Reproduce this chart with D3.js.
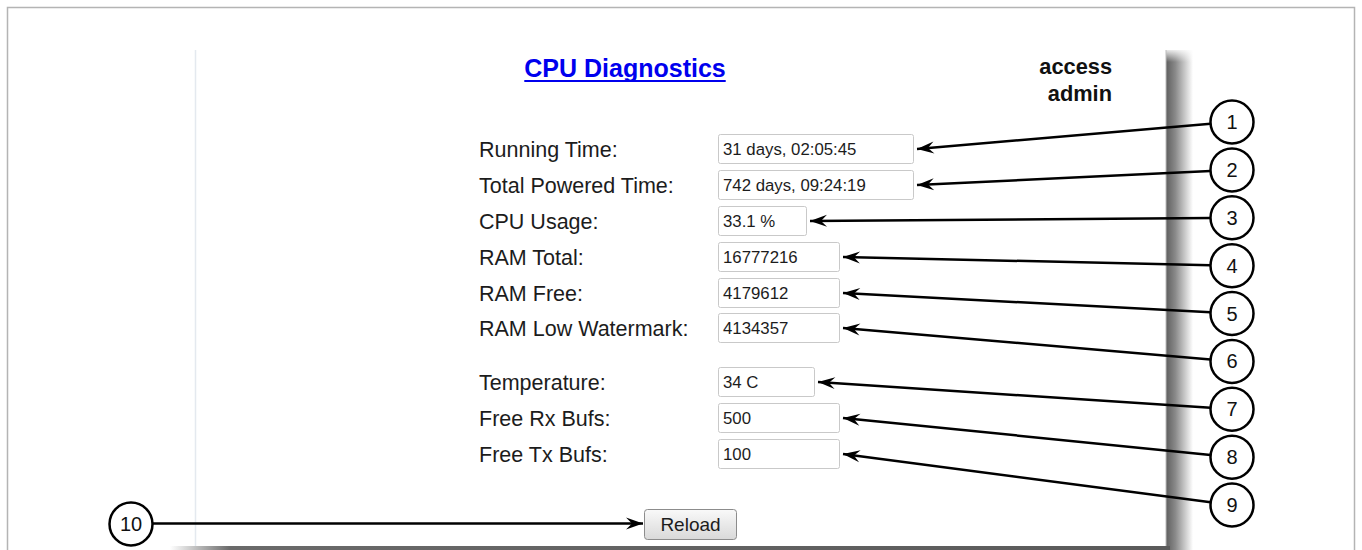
<!DOCTYPE html>
<html>
<head>
<meta charset="utf-8">
<script src="https://cdn.jsdelivr.net/npm/d3@7"></script>
<style>
  html, body { margin: 0; padding: 0; background: #ffffff; }
  svg { display: block; font-family: "Liberation Sans", Arial, sans-serif; }
</style>
</head>
<body>
<svg id="chart" width="1362" height="550"></svg>
<script>
// ---- data ----
const title = "CPU Diagnostics";
const userLines = ["access", "admin"];
const fieldLabels = ["Running Time:", "Total Powered Time:", "CPU Usage:", "RAM Total:", "RAM Free:",
  "RAM Low Watermark:", "Temperature:", "Free Rx Bufs:", "Free Tx Bufs:"];
const fieldValues = ["31 days, 02:05:45", "742 days, 09:24:19", "33.1 %", "16777216", "4179612",
  "4134357", "34 C", "500", "100"];
const calloutNumbers = ["1", "2", "3", "4", "5", "6", "7", "8", "9"];
const buttonLabel = "Reload";
const buttonCallout = "10";

// ---- layout (not data) ----
const boxWidths = [195, 195, 88, 121, 121, 121, 96, 121, 121];

const svg = d3.select("#chart");
const defs = svg.append("defs");

const shadowR = defs.append("linearGradient").attr("id", "shR").attr("x1", 0).attr("x2", 1).attr("y1", 0).attr("y2", 0);
shadowR.append("stop").attr("offset", "0%").attr("stop-color", "#5e5e5e");
shadowR.append("stop").attr("offset", "35%").attr("stop-color", "#8a8a8a");
shadowR.append("stop").attr("offset", "100%").attr("stop-color", "#ffffff");
const shadowRTop = defs.append("linearGradient").attr("id", "shRT").attr("x1", 0).attr("x2", 0).attr("y1", 0).attr("y2", 1);
shadowRTop.append("stop").attr("offset", "0%").attr("stop-color", "#fff").attr("stop-opacity", 1);
shadowRTop.append("stop").attr("offset", "100%").attr("stop-color", "#fff").attr("stop-opacity", 0);
const shadowB = defs.append("linearGradient").attr("id", "shB").attr("x1", 0).attr("x2", 1).attr("y1", 0).attr("y2", 0);
shadowB.append("stop").attr("offset", "0%").attr("stop-color", "#ffffff");
shadowB.append("stop").attr("offset", "6%").attr("stop-color", "#6a6a6a");
shadowB.append("stop").attr("offset", "100%").attr("stop-color", "#5a5a5a");
const btnGrad = defs.append("linearGradient").attr("id", "btn").attr("x1", 0).attr("x2", 0).attr("y1", 0).attr("y2", 1);
btnGrad.append("stop").attr("offset", "0%").attr("stop-color", "#f9f9f9");
btnGrad.append("stop").attr("offset", "100%").attr("stop-color", "#d9d9d9");

defs.append("marker").attr("id", "arr").attr("viewBox", "-18 -7 20 14")
  .attr("refX", 0).attr("refY", 0).attr("markerUnits", "userSpaceOnUse")
  .attr("markerWidth", 20).attr("markerHeight", 14).attr("orient", "auto")
  .append("path").attr("d", "M0,0 L-17,-6 L-11,0 L-17,6 Z").attr("fill", "#000");

// outer frame
svg.append("rect").attr("x", 7.5).attr("y", 7.5).attr("width", 1347).attr("height", 570)
  .attr("fill", "none").attr("stroke", "#b4b4b4").attr("stroke-width", 1.5);

// panel
svg.append("line").attr("x1", 195.5).attr("x2", 195.5).attr("y1", 50).attr("y2", 547)
  .attr("stroke", "#e4e9ef").attr("stroke-width", 1.5);
svg.append("rect").attr("x", 1166).attr("y", 50).attr("width", 27).attr("height", 500).attr("fill", "url(#shR)");
svg.append("rect").attr("x", 1166).attr("y", 48).attr("width", 27).attr("height", 14).attr("fill", "url(#shRT)");
svg.append("line").attr("x1", 1166).attr("x2", 1166).attr("y1", 50).attr("y2", 547)
  .attr("stroke", "#bdbdbd").attr("stroke-width", 1);
svg.append("rect").attr("x", 170).attr("y", 546).attr("width", 1000).attr("height", 4).attr("fill", "url(#shB)");

// title
const titleText = svg.append("text").attr("x", 625).attr("y", 77).attr("text-anchor", "middle")
  .attr("font-size", 25).attr("font-weight", "bold").attr("fill", "#0000ee").text(title);
const tw = titleText.node().getComputedTextLength();
svg.append("line").attr("x1", 625 - tw / 2).attr("x2", 625 + tw / 2).attr("y1", 81).attr("y2", 81)
  .attr("stroke", "#0000ee").attr("stroke-width", 2);

// access/admin
svg.selectAll("text.user").data(userLines).join("text").attr("class", "user")
  .attr("x", 1112).attr("y", (d, i) => 74 + i * 27).attr("text-anchor", "end")
  .attr("font-size", 21.8).attr("font-weight", "bold").attr("fill", "#111").text(d => d);

// rows
const idx = d3.range(fieldLabels.length);
const rowY = d3.scaleLinear().domain([0, 1]).range([134, 170]);
const rowTop = i => rowY(i) + (i >= 6 ? 17 : 0) - (i === 5 ? 1 : 0);
const boxH = 29;
const boxW = i => boxWidths[i];
const boxX = 718;

svg.selectAll("text.label").data(idx).join("text").attr("class", "label")
  .attr("x", 479).attr("y", i => rowTop(i) + 23)
  .attr("font-size", 21.5).attr("fill", "#1c1c1c").text(i => fieldLabels[i]);

svg.selectAll("rect.box").data(idx).join("rect").attr("class", "box")
  .attr("x", boxX + 0.5).attr("y", i => rowTop(i) + 0.5).attr("width", i => boxW(i)).attr("height", boxH)
  .attr("rx", 2).attr("fill", "#fff").attr("stroke", "#c9c9c9").attr("stroke-width", 1);

svg.selectAll("text.val").data(idx).join("text").attr("class", "val")
  .attr("x", boxX + 5).attr("y", i => rowTop(i) + 21)
  .attr("font-size", 16.8).attr("fill", "#1c1c1c").text(i => fieldValues[i]);

// callouts
const cx = 1232, cr = 21.5;
const cY = d3.scaleLinear().domain([0, 8]).range([122, 505]);

idx.forEach(i => {
  const tx = boxX + boxW(i) + 4, ty = rowTop(i) + boxH / 2 + 0.5;
  const ccy = cY(i);
  const dx = tx - cx, dy = ty - ccy, L = Math.hypot(dx, dy);
  const sx = cx + dx / L * cr, sy = ccy + dy / L * cr;
  svg.append("line").attr("x1", sx).attr("y1", sy).attr("x2", tx).attr("y2", ty)
    .attr("stroke", "#000").attr("stroke-width", 2.5).attr("marker-end", "url(#arr)");
});

svg.selectAll("circle.co").data(idx).join("circle").attr("class", "co")
  .attr("cx", cx).attr("cy", i => cY(i)).attr("r", cr)
  .attr("fill", "#fff").attr("stroke", "#000").attr("stroke-width", 2.5);
svg.selectAll("text.co").data(idx).join("text").attr("class", "co")
  .attr("x", cx).attr("y", i => cY(i) + 7).attr("text-anchor", "middle")
  .attr("font-size", 20).attr("fill", "#111").text(i => calloutNumbers[i]);

// reload button + callout 10
const bx = 644, by = 509, bw = 92, bh = 30;
svg.append("line").attr("x1", 131 + cr).attr("y1", 523.5).attr("x2", bx - 1).attr("y2", 523.5)
  .attr("stroke", "#000").attr("stroke-width", 2.5).attr("marker-end", "url(#arr)");
svg.append("circle").attr("cx", 131).attr("cy", 524).attr("r", cr)
  .attr("fill", "#fff").attr("stroke", "#000").attr("stroke-width", 2.5);
svg.append("text").attr("x", 131).attr("y", 531).attr("text-anchor", "middle")
  .attr("font-size", 20).attr("fill", "#111").text(buttonCallout);

svg.append("rect").attr("x", bx + 0.5).attr("y", by + 0.5).attr("width", bw).attr("height", bh).attr("rx", 3)
  .attr("fill", "url(#btn)").attr("stroke", "#8c8c8c").attr("stroke-width", 1);
svg.append("text").attr("x", bx + bw / 2 + 0.5).attr("y", by + 22).attr("text-anchor", "middle")
  .attr("font-size", 19).attr("fill", "#1c1c1c").text(buttonLabel);
</script>
</body>
</html>
